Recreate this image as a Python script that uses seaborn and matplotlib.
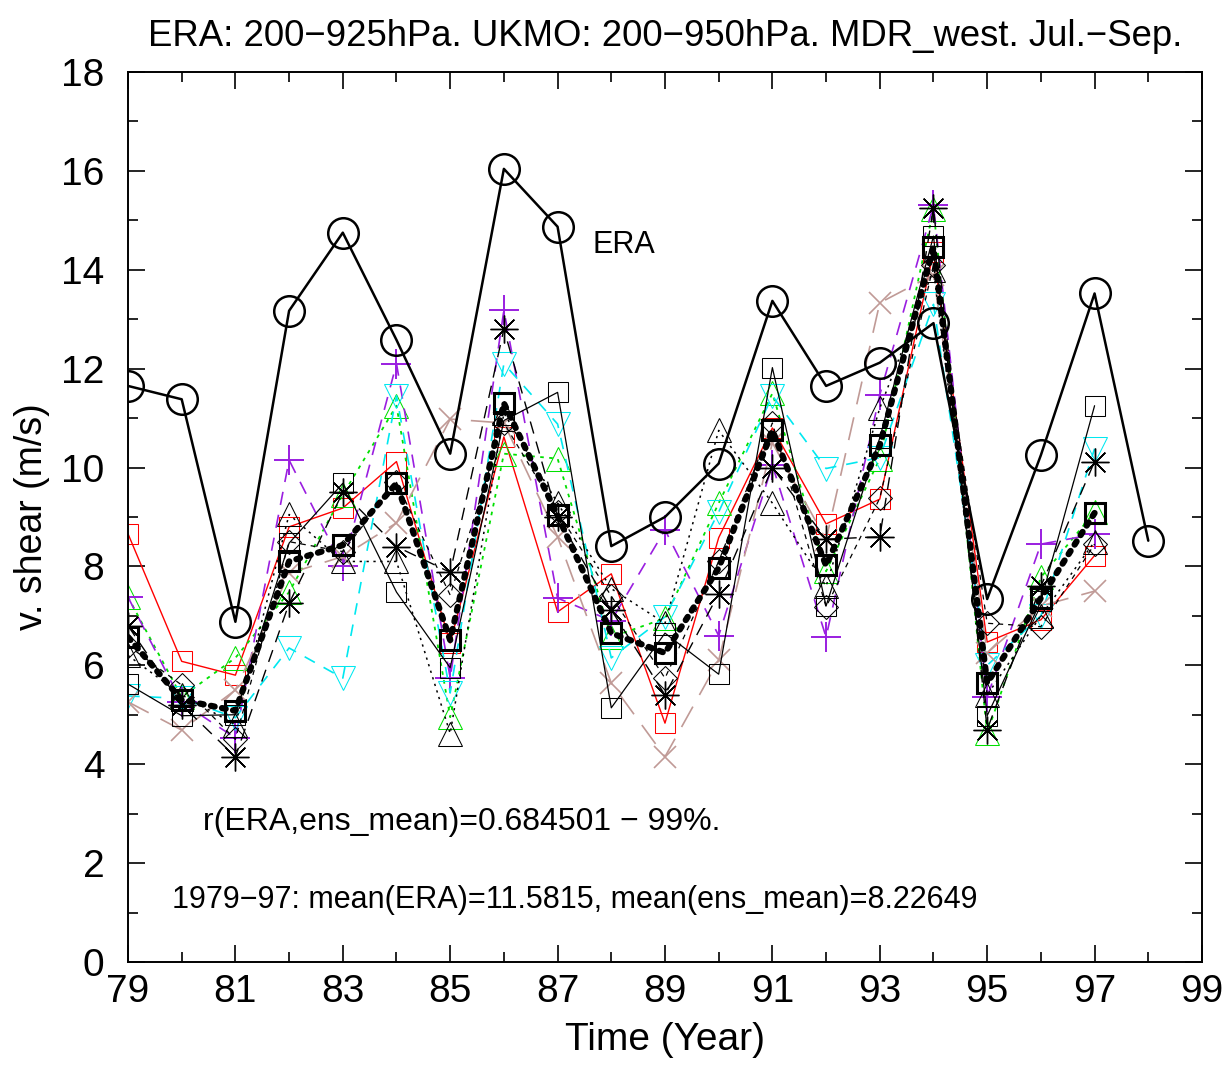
import numpy as np
import pandas as pd
import matplotlib
matplotlib.use("Agg")
import matplotlib.pyplot as plt
from matplotlib.ticker import FixedLocator, MultipleLocator
import seaborn as sns

sns.set_style("ticks")
plt.rcParams['font.family'] = ['Liberation Sans', 'DejaVu Sans']
plt.rcParams.update({'text.color': 'black', 'axes.labelcolor': 'black',
                     'xtick.color': 'black', 'ytick.color': 'black',
                     'axes.edgecolor': 'black'})

years_era = list(range(79, 99))
years = list(range(79, 98))

era = [11.65, 11.38, 6.88, 13.17, 14.75, 12.58, 10.28, 16.04, 14.87, 8.41,
       9.0, 10.08, 13.37, 11.65, 12.12, 12.92, 7.34, 10.25, 13.52, 8.52]

ens_mean = [6.57, 5.3, 5.08, 8.1, 8.43, 9.68, 6.51, 11.3, 9.03, 6.65,
            6.25, 7.97, 10.75, 8.02, 10.45, 14.45, 5.64, 7.36, 9.08]

m_red_sq = [8.66, 6.08, 5.8, 8.8, 9.18, 10.12, 6.45, 10.62, 7.08, 7.85,
            4.83, 8.58, 10.8, 8.86, 9.36, 14.35, 6.47, 6.92, 8.22]
m_green_tri = [7.38, 5.36, 6.15, 7.48, 9.45, 11.25, 4.95, 10.28, 10.18, 6.57,
               6.95, 9.28, 11.5, 7.9, 10.18, 15.22, 4.63, 7.78, 9.1]
m_purple_plus = [7.38, 5.25, 4.53, 10.15, 8.0, 12.1, 5.74, 13.18, 7.36, 6.9,
                 8.74, 6.6, 10.05, 6.57, 11.47, 15.3, 5.36, 8.45, 8.65]
m_cyan_dtri = [5.38, 5.33, 4.94, 6.35, 5.74, 11.45, 5.44, 12.1, 10.88, 6.15,
               6.98, 9.1, 11.45, 9.98, 10.2, 13.3, 6.0, 7.0, 10.38]
m_brown_x = [5.26, 4.69, 5.5, 7.86, 8.2, 8.88, 10.98, 10.9, 8.6, 5.64,
             4.15, 6.1, 10.5, 8.54, 13.33, 13.9, 6.25, 7.2, 7.5]
m_black_sq = [5.62, 4.98, 5.0, 8.47, 9.68, 7.48, 5.95, 10.95, 11.52, 5.14,
              6.65, 5.82, 12.02, 7.2, 10.6, 14.68, 4.98, 7.3, 11.25]
m_black_tri = [6.2, 5.4, 4.8, 9.05, 8.1, 8.1, 4.62, 11.1, 9.28, 7.55,
               6.85, 10.75, 9.28, 7.6, 11.2, 14.0, 5.4, 7.0, 8.5]
m_black_star = [6.8, 5.2, 4.15, 7.25, 9.5, 8.4, 7.88, 12.8, 9.0, 7.12,
                5.4, 7.45, 10.0, 8.55, 8.6, 15.25, 4.7, 7.6, 10.12]
m_black_dia = [6.4, 5.6, 4.5, 8.5, 8.3, 9.7, 7.42, 10.9, 9.1, 7.4,
               5.74, 8.1, 10.9, 7.18, 9.38, 14.1, 6.85, 6.78, 8.45]

xticks = [79, 81, 83, 85, 87, 89, 91, 93, 95, 97, 99]
yticks = [0, 2, 4, 6, 8, 10, 12, 14, 16, 18]

title = "ERA: 200\u2212925hPa. UKMO: 200\u2212950hPa. MDR_west. Jul.\u2212Sep."
xlabel = "Time (Year)"
ylabel = "v. shear (m/s)"
note1 = "r(ERA,ens_mean)=0.684501 \u2212 99%."
note2 = "1979\u221297: mean(ERA)=11.5815, mean(ens_mean)=8.22649"

fig = plt.figure(figsize=(12.26, 10.66), dpi=100)
ax = fig.add_axes([0.1044, 0.0976, 0.876, 0.8349])

members = [
    (m_red_sq, dict(color='#ff0000', ls='-', lw=1.0, marker='s', ms=15)),
    (m_green_tri, dict(color='#00e000', ls=(0, (2, 3)), lw=1.3, marker='^', ms=17)),
    (m_purple_plus, dict(color='#9a1ee0', ls=(0, (8, 6)), lw=1.2, marker='+', ms=22, mew=1.4)),
    (m_cyan_dtri, dict(color='#00e8f0', ls=(0, (7, 6)), lw=1.2, marker='v', ms=17)),
    (m_brown_x, dict(color='#c09a96', ls=(0, (14, 8)), lw=1.2, marker='x', ms=16, mew=1.2)),
    (m_black_sq, dict(color='black', ls='-', lw=0.9, marker='s', ms=15)),
    (m_black_tri, dict(color='black', ls=(0, (1.5, 3)), lw=1.1, marker='^', ms=17)),
    (m_black_star, dict(color='black', ls=(0, (9, 6)), lw=1.0, marker=(8, 2, 0), ms=20, mew=1.0)),
    (m_black_dia, dict(color='black', ls=(0, (4, 4)), lw=0.9, marker='D', ms=12)),
]

for vals, st in members:
    df = pd.DataFrame({'year': years, 'val': vals})
    color = st.pop('color')
    sns.lineplot(data=df, x='year', y='val', ax=ax, color=color,
                 markerfacecolor='none', markeredgecolor=color, **st)

df_mean = pd.DataFrame({'year': years, 'val': ens_mean})
sns.lineplot(data=df_mean, x='year', y='val', ax=ax, color='black',
             ls=(0, (0.6, 1.2)), lw=4.5, dash_capstyle='round',
             marker='s', ms=15, mew=2.2, markerfacecolor='none', markeredgecolor='black')

df_era = pd.DataFrame({'year': years_era, 'val': era})
sns.lineplot(data=df_era, x='year', y='val', ax=ax, color='black', lw=1.8,
             marker='o', ms=22, mew=1.8, markerfacecolor='none', markeredgecolor='black')

ax.set_xlim(79, 99)
ax.set_ylim(0, 18)
ax.xaxis.set_major_locator(FixedLocator(xticks))
ax.xaxis.set_minor_locator(MultipleLocator(1))
ax.yaxis.set_major_locator(FixedLocator(yticks))
ax.yaxis.set_minor_locator(MultipleLocator(1))
ax.tick_params(which='both', direction='in', top=True, right=True, labelsize=28, width=1.2)
ax.tick_params(which='major', length=12)
ax.tick_params(which='minor', length=7)
ax.tick_params(axis='x', which='major', pad=9)
ax.tick_params(axis='y', which='major', pad=17)
for sp in ax.spines.values():
    sp.set_linewidth(1.4)
    sp.set_visible(True)

ax.set_xlabel(xlabel, fontsize=28, labelpad=8)
ax.set_ylabel(ylabel, fontsize=27, labelpad=8)
ax.set_title(title, fontsize=26.3, pad=19)

ax.text(87.65, 14.5, "ERA", fontsize=22, va='center', ha='left')
ax.text(80.4, 2.83, note1, fontsize=23, va='center', ha='left')
ax.text(79.82, 1.25, note2, fontsize=22, va='center', ha='left')

fig.savefig("out.png", dpi=100)
